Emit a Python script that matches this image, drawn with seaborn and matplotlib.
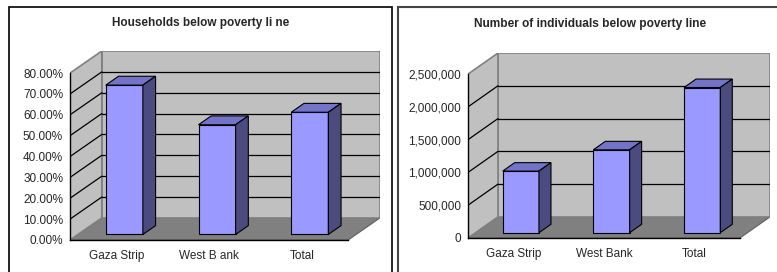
import numpy as np
import matplotlib
matplotlib.use("Agg")
import matplotlib.pyplot as plt
from matplotlib.patches import Polygon, Rectangle
import seaborn as sns

sns.set_style("white")
plt.rcParams["font.family"] = ["Liberation Sans", "DejaVu Sans"]

# data
hh_categories = ["Gaza Strip", "West B ank", "Total"]
hh_values = [71.6, 52.6, 58.6]          # percent of households
hh_ticks = [0, 10, 20, 30, 40, 50, 60, 70, 80]

ind_categories = ["Gaza Strip", "West Bank", "Total"]
ind_values = [940000, 1265000, 2215000]  # individuals
ind_ticks = [0, 500000, 1000000, 1500000, 2000000, 2500000]

FRONT = "#9999ff"
TOP = "#7373c8"
SIDE = "#4b4b80"
WALL = "#c0c0c0"
FLOOR = "#808080"


def bar3d(ax, cats, vals, ticks, dx, dy, fmt):
    ymax = ticks[-1]
    n = len(cats)
    x0, x1 = -0.5, n - 0.5
    # walls + floor
    ax.add_patch(Polygon([(x0, 0), (x1, 0), (x1 + dx, dy), (x0 + dx, dy)],
                         closed=True, fc=FLOOR, ec="#606060", lw=0.8, zorder=0))
    ax.add_patch(Polygon([(x0 + dx, dy), (x1 + dx, dy), (x1 + dx, ymax + dy), (x0 + dx, ymax + dy)],
                         closed=True, fc=WALL, ec="#808080", lw=1.2, zorder=0))
    ax.add_patch(Polygon([(x0, 0), (x0 + dx, dy), (x0 + dx, ymax + dy), (x0, ymax)],
                         closed=True, fc=WALL, ec="#808080", lw=1.2, zorder=0))
    for t in ticks[1:-1]:
        ax.plot([x0 + dx, x1 + dx], [t + dy, t + dy], color="black", lw=0.9, zorder=0.5)
        ax.plot([x0, x0 + dx], [t, t + dy], color="black", lw=0.9, zorder=0.5)

    sns.barplot(x=cats, y=vals, color=FRONT, width=0.4, edgecolor="black",
                linewidth=0.8, saturation=1, ax=ax, zorder=2)
    d0, dd = 0.25, 0.4  # depth of bar front and bar depth (fractions)
    for p in ax.patches:
        if not isinstance(p, Rectangle):
            continue
        p.set_x(p.get_x() + d0 * dx)
        p.set_y(p.get_y() + d0 * dy)
        bx, by, w, h = p.get_x(), p.get_y(), p.get_width(), p.get_height()
        ox, oy = dd * dx, dd * dy
        ax.add_patch(Polygon([(bx, by + h), (bx + w, by + h), (bx + w + ox, by + h + oy), (bx + ox, by + h + oy)],
                             closed=True, fc=TOP, ec="black", lw=0.8, zorder=3))
        ax.add_patch(Polygon([(bx + w, by), (bx + w + ox, by + oy), (bx + w + ox, by + h + oy), (bx + w, by + h)],
                             closed=True, fc=SIDE, ec="black", lw=0.8, zorder=3))

    ax.set_xlim(x0, x1 + dx)
    ax.set_ylim(0, ymax + dy)
    ax.set_facecolor("none")
    for s in ["top", "right"]:
        ax.spines[s].set_visible(False)
    ax.spines["left"].set_bounds(0, ymax)
    ax.spines["bottom"].set_bounds(x0, x1)
    for s in ["left", "bottom"]:
        ax.spines[s].set_color("black")
        ax.spines[s].set_linewidth(1.0)
    ax.set_yticks(ticks)
    ax.set_yticklabels([fmt(t) for t in ticks])
    ax.set_xticks(range(n))
    ax.set_xticklabels(cats)
    ax.set_xticks(np.arange(n + 1) - 0.5, minor=True)
    ax.tick_params(axis="x", which="major", length=0, labelsize=8.5, pad=7)
    ax.tick_params(axis="x", which="minor", length=3, width=0.8, direction="out")
    ax.tick_params(axis="y", length=3, width=0.8, direction="out", labelsize=8.5, pad=2)
    ax.set_xlabel("")
    ax.set_ylabel("")


W, H = 777, 272
fig = plt.figure(figsize=(W / 100, H / 100), dpi=100)

# panel frames
fig.patches.append(Rectangle((9 / W, -0.1), (392 - 9) / W, (H - 7) / H + 0.1,
                             transform=fig.transFigure, fill=False, ec="black", lw=1.2))
fig.patches.append(Rectangle((398 / W, -0.1), 0.6, (H - 7) / H + 0.1,
                             transform=fig.transFigure, fill=False, ec="#444444", lw=1.5))

ax1 = fig.add_axes([70 / W, (H - 240) / H, 310 / W, 189 / H])
bar3d(ax1, hh_categories, hh_values, hh_ticks, 0.343, 10.6, lambda t: f"{t:.2f}%")

ax2 = fig.add_axes([468 / W, (H - 238) / H, 302 / W, 185 / H])
bar3d(ax2, ind_categories, ind_values, ind_ticks, 0.331, 322000, lambda t: f"{t:,.0f}")

fig.text(201 / W, (H - 23) / H, "Households below poverty li ne", ha="center", va="center",
         fontsize=8.5, fontweight="bold")
fig.text(590 / W, (H - 24) / H, "Number of individuals below poverty line", ha="center", va="center",
         fontsize=8.6, fontweight="bold")

fig.savefig("out.png", dpi=100)
